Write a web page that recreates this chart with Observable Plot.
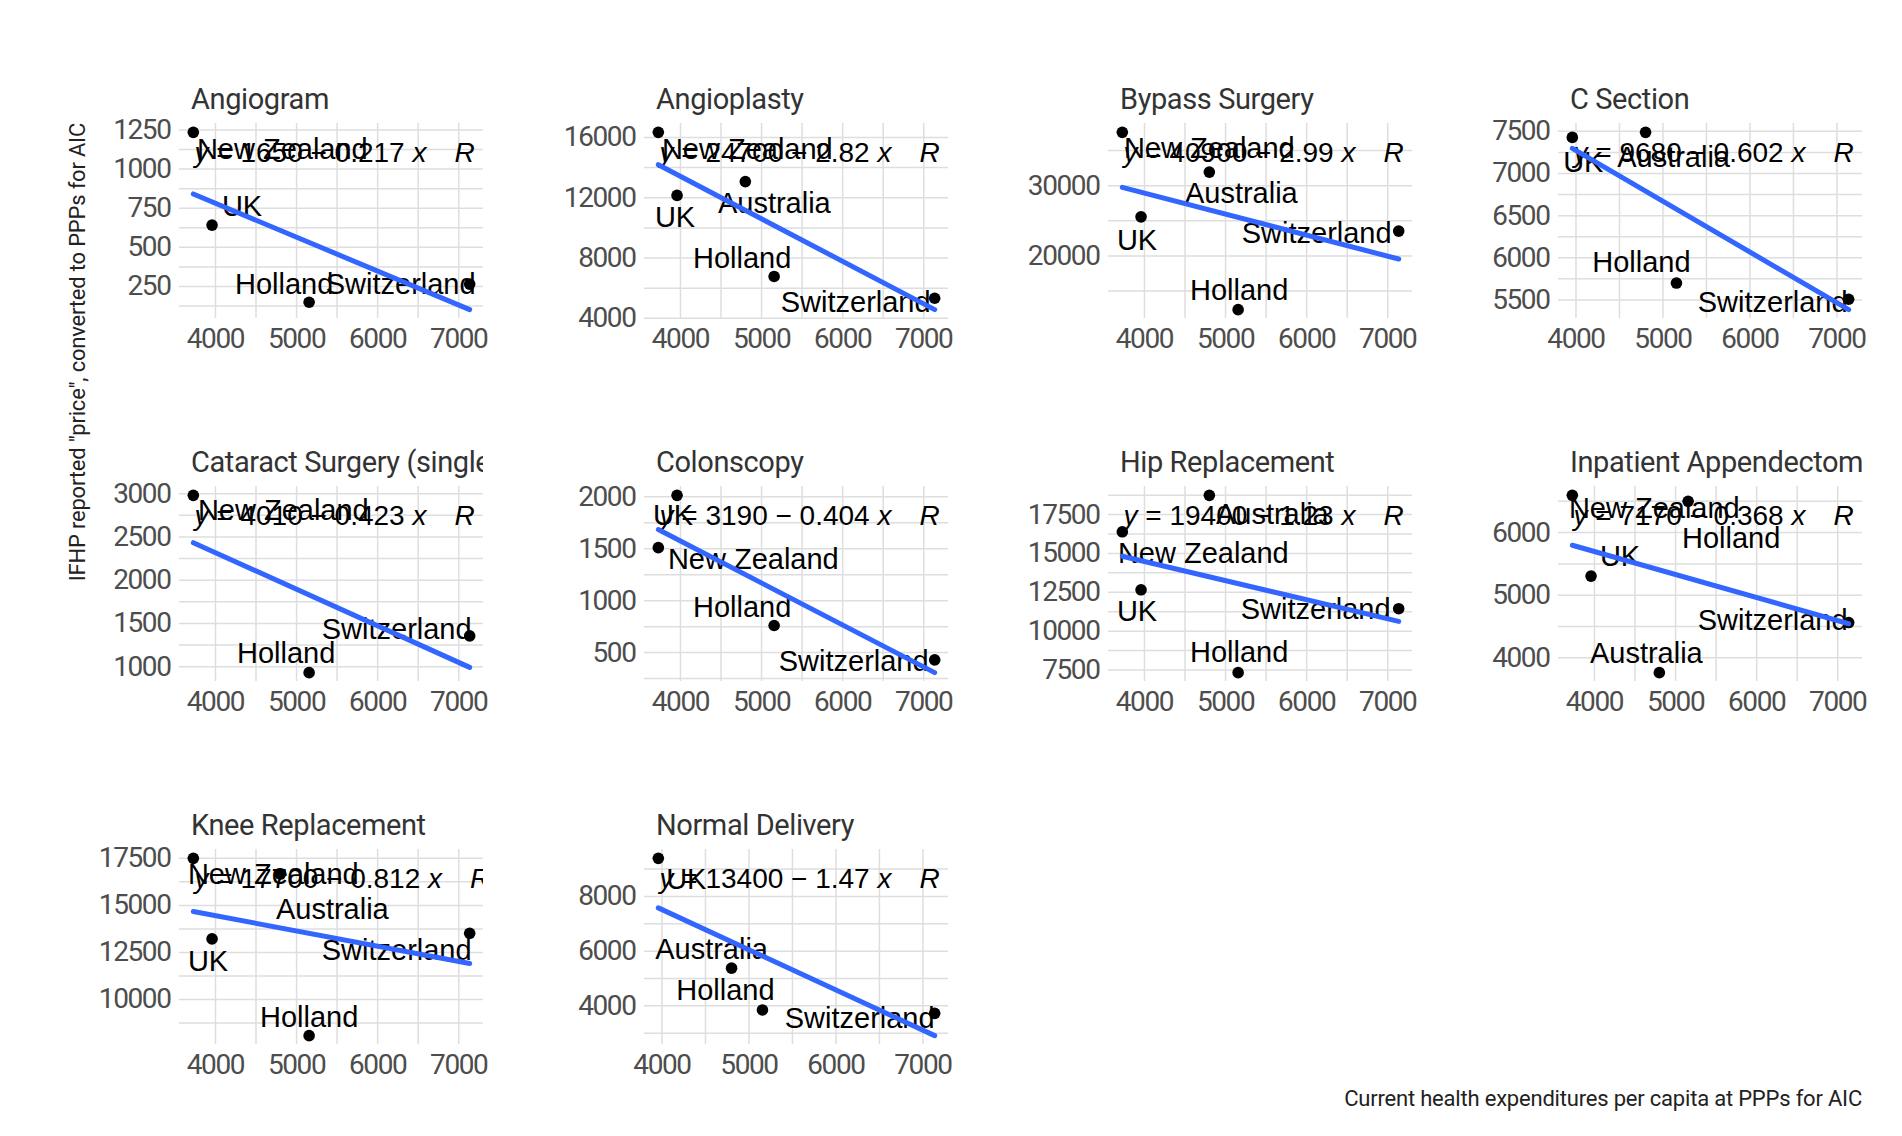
<!DOCTYPE html>
<html><head><meta charset="utf-8">
<script src="https://cdn.jsdelivr.net/npm/d3@7"></script>
<script src="https://cdn.jsdelivr.net/npm/@observablehq/plot@0.6"></script>
<style>
body{margin:0;background:#fff;}
#chart{position:relative;width:1902px;height:1136px;overflow:hidden;background:#fff;}
.title{position:absolute;width:304px;height:36px;line-height:36px;padding-left:12px;box-sizing:border-box;overflow:hidden;white-space:nowrap;font-family:Roboto,sans-serif;font-size:29px;letter-spacing:-0.4px;color:#333;}
.panel{position:absolute;}
.panel svg{letter-spacing:-1.4px;}
#titles{position:absolute;left:0;top:0;}
</style>
</head><body>
<div id="chart"></div>
<script>
// ---- data ----
const countries = ["New Zealand", "UK", "Australia", "Holland", "Switzerland"];
const healthSpend = [3727, 3958, 4800, 5155, 7135];
const procedures = ["Angiogram", "Angioplasty", "Bypass Surgery", "C Section", "Cataract Surgery (single lens)",
  "Colonscopy", "Hip Replacement", "Inpatient Appendectomy", "Knee Replacement", "Normal Delivery"];
const priceAngiogram   = [1235, 642, null, 149, 265];
const priceAngioplasty = [16333, 12155, 13067, 6778, 5333];
const priceBypass      = [37594, 25566, 31934, 12358, 23538];
const priceCSection    = [null, 7428, 7488, 5700, 5508];
const priceCataract    = [2981, null, null, 931, 1356];
const priceColonscopy  = [1510, 2013, null, 761, 430];
const priceHip         = [16391, 12660, 18737, 7329, 11445];
const priceAppendix    = [6595, 5305, 3763, 6500, 4563];
const priceKnee        = [17500, 13218, 16659, 8073, 13516];
const priceDelivery    = [null, 9391, 5379, 3851, 3727];
const prices = [priceAngiogram, priceAngioplasty, priceBypass, priceCSection, priceCataract,
  priceColonscopy, priceHip, priceAppendix, priceKnee, priceDelivery];
const intercepts = [1650, 24700, 40900, 9680, 4010, 3190, 19400, 7170, 17700, 13400];
const slopes = [-0.217, -2.82, -2.99, -0.602, -0.423, -0.404, -1.23, -0.368, -0.812, -1.47];
const xTicks = [4000, 5000, 6000, 7000];
const yTicks = [
  [250, 500, 750, 1000, 1250],
  [4000, 8000, 12000, 16000],
  [20000, 30000],
  [5500, 6000, 6500, 7000, 7500],
  [1000, 1500, 2000, 2500, 3000],
  [500, 1000, 1500, 2000],
  [7500, 10000, 12500, 15000, 17500],
  [4000, 5000, 6000],
  [10000, 12500, 15000, 17500],
  [4000, 6000, 8000]
];
const xTitle = "Current health expenditures per capita at PPPs for AIC";
const yTitle = "IFHP reported \"price\", converted to PPPs for AIC";

// ---- layout (label nudges in px, per panel, per country) ----
const labelNudge = [
  [[89,17],[30,-18],null,[-25,-18],[-69,1]],
  [[89,17],[-2,22],[29,22],[-32,-18],[-79,4]],
  [[87,16],[-4,24],[32,22],[1,-19],[-82,3]],
  [null,[11,25],[28,25],[-35,-20],[-76,3]],
  [[90,15],null,null,[-23,-19],[-73,-6]],
  [[95,12],[-4,20],null,[-32,-18],[-81,2]],
  [[81,22],[-4,22],[63,19],[1,-20],[-83,1]],
  [[82,13],[29,-19],[-13,-19],[43,37],[-76,-2]],
  [[80,16],[-4,23],[52,36],[0,-18],[-73,17]],
  [null,[28,21],[-20,-18],[-37,-19],[-75,5]]
];
const colLeft = [179, 644, 1108, 1558];
const rowTop = [123, 486, 849];
const PW = 304, PH = 195;
const ML = 95, MR = 10, MT = 10, MB = 50;
const LABEL_FONT = "Liberation Sans, Arial, sans-serif";

const chart = document.getElementById("chart");

function pad(ext){ const r = ext[1]-ext[0]; return [ext[0]-0.05*r, ext[1]+0.05*r]; }
function gridVals(ticks, dom){
  const step = ticks.length > 1 ? ticks[1]-ticks[0] : 1;
  const out = [];
  for (let v = ticks[0]-step/2; v <= ticks[ticks.length-1]+step/2 + 1e-9; v += step/2) out.push(v);
  return out.filter(v => v >= dom[0] && v <= dom[1]);
}
function fmt(v){ return String(v); }

procedures.forEach((name, i) => {
  const col = i % 4, row = Math.floor(i / 4);
  const pts = [];
  prices[i].forEach((p, k) => { if (p != null) pts.push({country: countries[k], k, x: healthSpend[k], y: p}); });
  const xr = d3.extent(pts, d => d.x);
  const xd = pad(xr);
  const a = intercepts[i], b = slopes[i];
  const linePts = xr.map(x => ({x, y: a + b * x}));
  const yd = pad(d3.extent(pts.concat(linePts), d => d.y));
  const eq = `y = ${fmt(a)} \u2212 ${fmt(-b)} x\u2003R`;

  const labelMarks = pts.map(p => {
    const n = labelNudge[i][p.k] || [0, 0];
    return Plot.text([p], {x: "x", y: "y", text: "country", dx: n[0], dy: n[1],
      textAnchor: "middle", lineAnchor: "middle", fontFamily: LABEL_FONT, fontSize: 29, fill: "#000"});
  });

  const svg = Plot.plot({
    width: PW + ML + MR, height: PH + MT + MB,
    marginLeft: ML, marginRight: MR, marginTop: MT, marginBottom: MB,
    x: {domain: xd, axis: null},
    y: {domain: yd, axis: null},
    style: {fontFamily: "Roboto, sans-serif", fontSize: "28px", color: "#4d4d4d", background: "transparent", overflow: "visible"},
    marks: [
      Plot.gridX(gridVals(xTicks, xd), {stroke: "#dedede", strokeOpacity: 1, strokeWidth: 1.5}),
      Plot.gridY(gridVals(yTicks[i], yd), {stroke: "#dedede", strokeOpacity: 1, strokeWidth: 1.5}),
      Plot.axisX(xTicks.filter(v => v >= xd[0] && v <= xd[1]), {tickSize: 0, tickPadding: 10, tickFormat: fmt, fill: "#4d4d4d", fontSize: 28, label: null}),
      Plot.axisY(yTicks[i].filter(v => v >= yd[0] && v <= yd[1]), {tickSize: 0, tickPadding: 9, tickFormat: fmt, fill: "#4d4d4d", fontSize: 28, label: null}),
      ...labelMarks,
      Plot.text([eq], {frameAnchor: "top-left", dx: 15, dy: 30, text: d => d, textAnchor: "start", lineAnchor: "middle",
        clip: true, fontFamily: LABEL_FONT, fontSize: 28, fill: "#000"}),
      Plot.dot(pts, {x: "x", y: "y", r: 5.8, fill: "#000", stroke: null}),
      Plot.line(linePts, {x: "x", y: "y", stroke: "#3366FF", strokeWidth: 5})
    ]
  });

  // labels: normal spacing; equation: italic y, x, R
  d3.select(svg).selectAll("text").each(function(){
    const s = this.textContent;
    if (countries.includes(s)) {
      this.style.letterSpacing = "0px";
    } else if (s === eq) {
      const t = d3.select(this);
      t.text(null).style("white-space", "pre").style("letter-spacing", "0px");
      const parts = [["y", true], [` = ${fmt(a)} \u2212 ${fmt(-b)} `, false], ["x", true], ["\u2003", false], ["R", true]];
      parts.forEach(([str, it]) => t.append("tspan").attr("font-style", it ? "italic" : null).text(str));
    }
  });

  const wrap = document.createElement("div");
  wrap.className = "panel";
  wrap.style.left = (colLeft[col] - ML) + "px";
  wrap.style.top = (rowTop[row] - MT) + "px";
  wrap.appendChild(svg);
  chart.appendChild(wrap);

  const tdiv = document.createElement("div");
  tdiv.className = "title";
  tdiv.style.left = colLeft[col] + "px";
  tdiv.style.top = (rowTop[row] - 42) + "px";
  tdiv.textContent = name;
  chart.appendChild(tdiv);
});

// axis titles
const ov = d3.select(chart).append("svg").attr("id", "titles").attr("width", 1902).attr("height", 1136)
  .style("pointer-events", "none");
ov.append("text").attr("transform", "translate(77,123) rotate(-90)").attr("text-anchor", "end")
  .attr("dy", "0.35em").attr("font-family", "Roboto, sans-serif").attr("font-size", 22)
  .style("letter-spacing", "-0.2px").attr("fill", "#222").text(yTitle);
ov.append("text").attr("x", 1862).attr("y", 1106).attr("text-anchor", "end")
  .attr("font-family", "Roboto, sans-serif").attr("font-size", 22)
  .style("letter-spacing", "-0.2px").attr("fill", "#222").text(xTitle);
</script>
</body></html>
